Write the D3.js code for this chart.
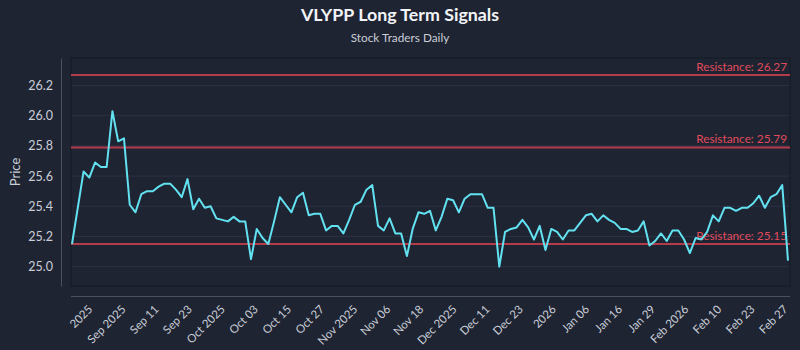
<!DOCTYPE html>
<html>
<head>
<meta charset="utf-8">
<script src="https://cdn.jsdelivr.net/npm/d3@7"></script>
<style>
  html, body { margin: 0; padding: 0; background: #1f2433; }
  svg { display: block; }
</style>
</head>
<body>
<svg id="chart" width="800" height="350"></svg>
<script>
// Daily closing prices, oldest first
const prices = [
  25.15, 25.39, 25.63, 25.59, 25.69, 25.66, 25.66, 26.03, 25.83, 25.85,
  25.41, 25.36, 25.48, 25.50, 25.50, 25.53, 25.55, 25.55, 25.51, 25.46,
  25.58, 25.38, 25.45, 25.39, 25.40, 25.32, 25.31, 25.30, 25.33, 25.30,
  25.30, 25.05, 25.25, 25.19, 25.15, 25.30, 25.46, 25.41, 25.36, 25.46,
  25.49, 25.34, 25.35, 25.35, 25.24, 25.27, 25.27, 25.22, 25.31, 25.41,
  25.43, 25.51, 25.54, 25.27, 25.24, 25.32, 25.22, 25.22, 25.07, 25.25,
  25.36, 25.35, 25.37, 25.24, 25.33, 25.45, 25.44, 25.36, 25.45, 25.48,
  25.48, 25.48, 25.39, 25.39, 25.00, 25.23, 25.25, 25.26, 25.31, 25.26,
  25.18, 25.27, 25.11, 25.25, 25.23, 25.18, 25.24, 25.24, 25.29, 25.34,
  25.35, 25.30, 25.34, 25.31, 25.29, 25.25, 25.25, 25.23, 25.24, 25.30,
  25.14, 25.17, 25.22, 25.17, 25.24, 25.24, 25.18, 25.09, 25.19, 25.18,
  25.23, 25.34, 25.30, 25.39, 25.39, 25.37, 25.39, 25.39, 25.42, 25.47,
  25.39, 25.46, 25.48, 25.54, 25.04
];

// Date labels along the time axis
const tickLabels = [
  "2025", "Sep 2025", "Sep 11", "Sep 23", "Oct 2025", "Oct 03", "Oct 15",
  "Oct 27", "Nov 2025", "Nov 06", "Nov 18", "Dec 2025", "Dec 11", "Dec 23",
  "2026", "Jan 06", "Jan 16", "Jan 29", "Feb 2026", "Feb 10", "Feb 23", "Feb 27"
];

// Price axis ticks
const yTicks = [25.0, 25.2, 25.4, 25.6, 25.8, 26.0, 26.2];

// Long term resistance levels
const resistanceLevels = [26.27, 25.79, 25.15];

const W = 800, H = 350;
const plot = { left: 71, right: 790, top: 58, bottom: 286 };
const FONT = "Lato, 'Open Sans', sans-serif";

const svg = d3.select("#chart");
svg.append("rect").attr("width", W).attr("height", H).attr("fill", "#1f2433");

const x = d3.scaleLinear().domain([0, prices.length - 1]).range([72, 788]);
const y = d3.scaleLinear().domain([24.872, 26.382]).range([plot.bottom, plot.top]);
const xTick = d3.scalePoint().domain(tickLabels).range([x(3.6), x(prices.length - 1)]);

// horizontal grid
svg.append("g")
  .selectAll("line")
  .data(yTicks)
  .join("line")
  .attr("x1", plot.left).attr("x2", plot.right)
  .attr("y1", d => y(d)).attr("y2", d => y(d))
  .attr("stroke", "#2b3244").attr("stroke-width", 1);

// plot frame
svg.append("rect")
  .attr("x", plot.left).attr("y", plot.top)
  .attr("width", plot.right - plot.left).attr("height", plot.bottom - plot.top)
  .attr("fill", "none").attr("stroke", "#141925").attr("stroke-width", 1);

// y axis
const yAxis = svg.append("g")
  .attr("transform", "translate(61,0)")
  .call(d3.axisLeft(y).tickValues(yTicks).tickFormat(d3.format(".1f")).tickSize(0).tickPadding(8));
yAxis.select(".domain").attr("stroke", "#4a5163");
yAxis.selectAll("text")
  .attr("fill", "#c9ced7").attr("font-size", 12.5).attr("font-family", FONT);

// x axis
svg.append("line")
  .attr("x1", plot.left).attr("x2", plot.right)
  .attr("y1", 296.5).attr("y2", 296.5)
  .attr("stroke", "#4a5163");
const xAxis = svg.append("g")
  .attr("transform", "translate(0,296)")
  .call(d3.axisBottom(xTick).tickSize(0));
xAxis.select(".domain").remove();
xAxis.selectAll("text")
  .attr("fill", "#c9ced7").attr("font-size", 11.5).attr("font-family", FONT)
  .attr("text-anchor", "end")
  .attr("x", 0).attr("y", 0).attr("dy", 0)
  .attr("transform", "translate(0,14) rotate(-45)");

// resistance levels
const res = svg.append("g");
res.selectAll("line")
  .data(resistanceLevels)
  .join("line")
  .attr("x1", plot.left).attr("x2", plot.right)
  .attr("y1", d => y(d)).attr("y2", d => y(d))
  .attr("stroke", "#c33f4e").attr("stroke-width", 2).attr("stroke-opacity", 0.9);
res.selectAll("text")
  .data(resistanceLevels)
  .join("text")
  .attr("x", 787).attr("y", d => y(d) - 4)
  .attr("text-anchor", "end")
  .attr("fill", "#e04b5b").attr("font-size", 11.8).attr("font-family", FONT)
  .text(d => "Resistance: " + d.toFixed(2));

// price line
svg.append("path")
  .datum(prices)
  .attr("fill", "none")
  .attr("stroke", "#62e2f0")
  .attr("stroke-width", 2)
  .attr("stroke-linejoin", "round")
  .attr("d", d3.line().x((d, i) => x(i)).y(d => y(d)));

// titles
svg.append("text")
  .attr("x", 400).attr("y", 21).attr("text-anchor", "middle")
  .attr("fill", "#f2f4f7").attr("font-size", 17.8).attr("font-weight", "bold")
  .attr("font-family", FONT)
  .text("VLYPP Long Term Signals");
svg.append("text")
  .attr("x", 400).attr("y", 42).attr("text-anchor", "middle")
  .attr("fill", "#c9ced7").attr("font-size", 11.8).attr("font-family", FONT)
  .text("Stock Traders Daily");
svg.append("text")
  .attr("transform", "translate(20,172) rotate(-90)")
  .attr("text-anchor", "middle")
  .attr("fill", "#c9ced7").attr("font-size", 13).attr("font-family", FONT)
  .text("Price");
</script>
</body>
</html>
